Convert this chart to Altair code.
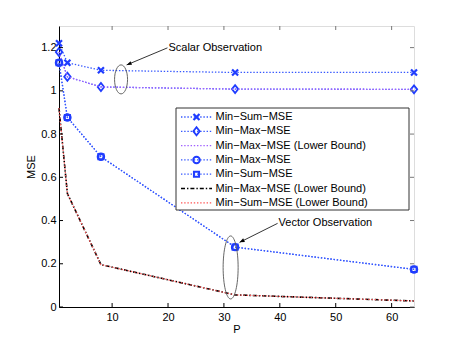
import altair as alt
import pandas as pd

# ---------------- data ----------------
P = [0.5, 2, 8, 32, 64]
scalar_min_sum = [1.22, 1.13, 1.095, 1.085, 1.085]
scalar_min_max = [1.18, 1.065, 1.018, 1.008, 1.007]
scalar_min_max_lb = [1.18, 1.065, 1.018, 1.008, 1.007]
vector_min_max = [1.13, 0.877, 0.695, 0.277, 0.174]
vector_min_sum = [1.13, 0.877, 0.695, 0.277, 0.174]
vector_min_max_lb = [0.92, 0.525, 0.196, 0.056, 0.028]
vector_min_sum_lb = [0.92, 0.525, 0.196, 0.056, 0.028]

x_ticks = [10, 20, 30, 40, 50, 60]
y_ticks = [0, 0.2, 0.4, 0.6, 0.8, 1, 1.2]

legend_labels = [
    "Min\u2212Sum\u2212MSE",
    "Min\u2212Max\u2212MSE",
    "Min\u2212Max\u2212MSE (Lower Bound)",
    "Min\u2212Max\u2212MSE",
    "Min\u2212Sum\u2212MSE",
    "Min\u2212Max\u2212MSE (Lower Bound)",
    "Min\u2212Sum\u2212MSE (Lower Bound)",
]

# annotations: ellipse centres, arrow start/end, label text
ann_text = ["Scalar Observation", "Vector Observation"]
ann_ellipse_P = [11.6, 31.2]
ann_ellipse_MSE = [1.053, 0.183]
ann_arrow_P = [19.9, 39.6]
ann_arrow_MSE = [1.199, 0.387]
ann_arrow_P2 = [12.6, 32.8]
ann_arrow_MSE2 = [1.12, 0.299]

# ---------------- styles ----------------
FONT = "Liberation Sans"
W, H = 355, 281
BLUE = "#1f3cff"
BLUE_LINE = "#3557ff"
PURPLE = "#a060ff"
RED = "#ff5555"
DOT = [1.4, 1.8]
DASHDOT = [4, 2, 1.4, 2]

X_PATH = "M-1,-1L1,1M-1,1L1,-1"
DIAMOND_PATH = "M-0.8,0L0,-1L0.8,0L0,1Z"
ELL1_PATH = "M-0.448,0A0.448,1 0 1,0 0.448,0A0.448,1 0 1,0 -0.448,0Z"
ELL2_PATH = "M-0.238,0A0.238,1 0 1,0 0.238,0A0.238,1 0 1,0 -0.238,0Z"
ARROW_PATH = "M0,0L-1,-0.4L-1,0.4Z"


def X(field="P"):
    return alt.X(
        f"{field}:Q",
        scale=alt.Scale(domain=[0.5, 64], nice=False, zero=False),
        axis=alt.Axis(
            values=x_ticks, title="P", grid=False, ticks=False, tickSize=0,
            labelPadding=4, titlePadding=1, domainColor="black",
            labelFont=FONT, labelFontSize=11, labelColor="black",
            titleFont=FONT, titleFontSize=11, titleFontWeight="normal",
            titleColor="black",
        ),
    )


def Y(field="MSE"):
    return alt.Y(
        f"{field}:Q",
        scale=alt.Scale(domain=[0, 1.3], nice=False, zero=True),
        axis=alt.Axis(
            values=y_ticks, title="MSE", grid=False, ticks=False, tickSize=0,
            format="~g", labelPadding=3, titlePadding=4, domainColor="black",
            labelFont=FONT, labelFontSize=11, labelColor="black",
            titleFont=FONT, titleFontSize=11, titleFontWeight="normal",
            titleColor="black",
        ),
    )


def series(vals, color, dash, shape=None, size=40, sw=2.0, width=1.3):
    df = pd.DataFrame({"P": P, "MSE": vals})
    base = alt.Chart(df)
    layers = [
        base.mark_line(color=color, strokeDash=dash, strokeWidth=width,
                       clip=False).encode(x=X(), y=Y())
    ]
    if shape is not None:
        layers.append(
            base.mark_point(shape=shape, filled=False, color=BLUE, size=size,
                            strokeWidth=sw, opacity=1).encode(x=X(), y=Y())
        )
    return layers


layers = []
layers += series(scalar_min_sum, BLUE_LINE, DOT, X_PATH, size=36, sw=2.2)
layers += series(scalar_min_max, BLUE_LINE, DOT, DIAMOND_PATH, size=64, sw=1.8)
layers += series(scalar_min_max_lb, PURPLE, DOT)
layers += series(vector_min_max, BLUE_LINE, DOT, "circle", size=42, sw=2.0)
layers += series(vector_min_sum, BLUE_LINE, DOT, "square", size=26, sw=2.0)
layers += series(vector_min_max_lb, "black", DASHDOT, width=1.6)
layers += series(vector_min_sum_lb, RED, DOT, width=1.2)

# inward ticks (MATLAB style)
xt = alt.Chart(pd.DataFrame({"P": x_ticks}))
yt = alt.Chart(pd.DataFrame({"MSE": y_ticks}))
layers.append(xt.mark_rule(color="black", strokeWidth=1).encode(
    x=X(), y=alt.value(H), y2=alt.value(H - 4)))
layers.append(xt.mark_rule(color="#777", strokeWidth=1).encode(
    x=X(), y=alt.value(0), y2=alt.value(4)))
layers.append(yt.mark_rule(color="black", strokeWidth=1).encode(
    y=Y(), x=alt.value(0), x2=alt.value(4)))
layers.append(yt.mark_rule(color="#777", strokeWidth=1).encode(
    y=Y(), x=alt.value(W), x2=alt.value(W - 4)))

# ---------------- legend (drawn by hand) ----------------
one = alt.Chart(pd.DataFrame({"a": [0]}))
layers.append(one.mark_rect(fill="white", stroke="#333", strokeWidth=1).encode(
    x=alt.value(117), x2=alt.value(350), y=alt.value(82), y2=alt.value(184)))

leg_styles = [
    (BLUE_LINE, DOT, X_PATH, 36, 2.2, 1.3),
    (BLUE_LINE, DOT, DIAMOND_PATH, 64, 1.8, 1.3),
    (PURPLE, DOT, None, 0, 0, 1.3),
    (BLUE_LINE, DOT, "circle", 42, 2.0, 1.3),
    (BLUE_LINE, DOT, "square", 26, 2.0, 1.3),
    ("black", DASHDOT, None, 0, 0, 1.6),
    (RED, DOT, None, 0, 0, 1.2),
]
for i, (label, st) in enumerate(zip(legend_labels, leg_styles)):
    color, dash, shape, size, sw, lw = st
    ry = 91 + i * 14.3
    layers.append(one.mark_rule(color=color, strokeDash=dash, strokeWidth=lw).encode(
        x=alt.value(122), x2=alt.value(153), y=alt.value(ry)))
    if shape is not None:
        layers.append(one.mark_point(shape=shape, filled=False, color=BLUE, size=size,
                                     strokeWidth=sw, opacity=1).encode(
            x=alt.value(137.5), y=alt.value(ry)))
    layers.append(one.mark_text(text=label, align="left", baseline="middle",
                                font=FONT, fontSize=11, color="black").encode(
        x=alt.value(156.5), y=alt.value(ry)))

# ---------------- annotations ----------------
ann = pd.DataFrame({
    "text": ann_text,
    "eP": ann_ellipse_P, "eM": ann_ellipse_MSE,
    "P": ann_arrow_P, "MSE": ann_arrow_MSE,
    "P2": ann_arrow_P2, "MSE2": ann_arrow_MSE2,
})
annc = alt.Chart(ann)
layers.append(alt.Chart(ann.iloc[[0]]).mark_point(
    shape=ELL1_PATH, filled=False, color="#555", size=841, strokeWidth=0.9, opacity=1
).encode(x=X("eP"), y=Y("eM")))
layers.append(alt.Chart(ann.iloc[[1]]).mark_point(
    shape=ELL2_PATH, filled=False, color="#555", size=3969, strokeWidth=0.9, opacity=1
).encode(x=X("eP"), y=Y("eM")))
layers.append(annc.mark_rule(color="black", strokeWidth=0.8).encode(
    x=X(), y=Y(), x2="P2:Q", y2="MSE2:Q"))
layers.append(alt.Chart(ann.iloc[[0]]).mark_point(
    shape=ARROW_PATH, filled=True, color="black", size=100, angle=157.5, opacity=1
).encode(x=X("P2"), y=Y("MSE2")))
layers.append(alt.Chart(ann.iloc[[1]]).mark_point(
    shape=ARROW_PATH, filled=True, color="black", size=100, angle=153.4, opacity=1
).encode(x=X("P2"), y=Y("MSE2")))
layers.append(annc.mark_text(align="left", baseline="middle", dx=1,
                             font=FONT, fontSize=11, color="black").encode(
    x=X(), y=Y(), text="text:N"))

chart = alt.layer(*layers).properties(
    width=W, height=H,
    autosize=alt.AutoSizeParams(type="none"),
    padding={"left": 51, "top": 18, "right": 35, "bottom": 32},
).configure_view(stroke="#777", strokeWidth=1).configure(background="white")

chart.save("out.html", embed_options={"renderer": "svg", "actions": False})
